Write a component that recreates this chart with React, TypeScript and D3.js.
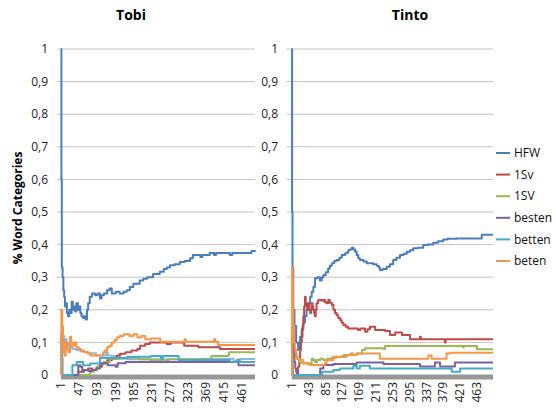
import { useEffect, useRef } from "react"
import * as d3 from "d3"

type Pt = [number, number]

// category index, share of words (at the change points)
const tobiHFW: Pt[] = [[1,1],[2,0.6],[3,0.33],[5,0.3],[7,0.26],[9,0.24],[11,0.21],[13,0.22],[16,0.19],[19,0.18],[22,0.2],[25,0.19],[28,0.225],[31,0.2],[34,0.21],[37,0.195],[40,0.22],[44,0.2],[47,0.21],[50,0.19],[53,0.18],[57,0.175],[61,0.18],[64,0.17],[67,0.2],[70,0.22],[74,0.24],[80,0.25],[88,0.245],[94,0.25],[100,0.235],[104,0.245],[110,0.25],[118,0.26],[124,0.265],[130,0.25],[140,0.255],[150,0.25],[160,0.255],[168,0.26],[176,0.27],[185,0.28],[195,0.28],[201,0.29],[210,0.295],[220,0.3],[227,0.3],[235,0.31],[245,0.31],[252,0.317],[262,0.325],[270,0.33],[278,0.337],[290,0.34],[303,0.347],[315,0.35],[329,0.358],[336,0.368],[350,0.368],[355,0.362],[360,0.368],[379,0.374],[390,0.368],[395,0.374],[420,0.374],[430,0.368],[436,0.374],[480,0.374],[485,0.38],[494,0.378]]
const tobiExtra: Pt[] = [[1,0],[2,0.13],[4,0.11],[6,0.12],[9,0.1],[12,0.11],[15,0.09],[18,0.1],[22,0.085],[26,0.09],[30,0.08],[40,0.077],[50,0.072],[60,0.07],[70,0.067],[90,0.06],[112,0.06],[115,0.07],[120,0.06],[130,0.058],[150,0.05],[170,0.048],[260,0.048],[265,0.044],[275,0.048],[360,0.05],[430,0.05],[440,0.043],[455,0.049],[494,0.049]]
const tobi1Sv: Pt[] = [[1,0],[40,0],[45,0.01],[57,0.015],[70,0.02],[80,0.015],[92,0.025],[105,0.035],[118,0.045],[130,0.05],[143,0.06],[151,0.065],[165,0.07],[180,0.075],[195,0.08],[202,0.09],[215,0.095],[227,0.1],[260,0.1],[270,0.095],[280,0.1],[311,0.1],[314,0.09],[340,0.09],[350,0.085],[400,0.085],[405,0.08],[494,0.08]]
const tobi1SV: Pt[] = [[1,0],[70,0],[75,0.01],[85,0.015],[92,0.025],[100,0.036],[110,0.04],[125,0.05],[150,0.053],[200,0.048],[228,0.045],[258,0.045],[260,0.04],[270,0.048],[380,0.048],[383,0.058],[425,0.06],[428,0.07],[494,0.07]]
const tobiBesten: Pt[] = [[1,0],[44,0],[45,0.03],[50,0.025],[55,0.01],[60,0.015],[70,0.012],[80,0.015],[90,0.02],[100,0.036],[120,0.03],[140,0.025],[145,0.036],[165,0.04],[450,0.04],[452,0.03],[494,0.03]]
const tobiBetten: Pt[] = [[1,0],[2,0.12],[4,0.05],[5,0],[29,0],[30,0.03],[41,0.04],[57,0.03],[75,0.035],[100,0.052],[170,0.056],[230,0.058],[255,0.05],[260,0.058],[290,0.058],[300,0.046],[400,0.046],[430,0.04],[448,0.046],[455,0.04],[494,0.04]]
const tobiBeten: Pt[] = [[1,0],[2,0.2],[4,0.15],[6,0.1],[8,0.07],[10,0.06],[13,0.1],[16,0.08],[20,0.07],[24,0.117],[27,0.1],[30,0.09],[35,0.1],[40,0.085],[46,0.08],[52,0.075],[60,0.07],[70,0.065],[76,0.06],[100,0.06],[108,0.07],[112,0.075],[118,0.085],[124,0.09],[130,0.1],[137,0.107],[143,0.115],[150,0.12],[160,0.125],[175,0.12],[185,0.125],[195,0.115],[205,0.12],[215,0.11],[230,0.112],[253,0.102],[315,0.11],[318,0.102],[390,0.11],[393,0.102],[400,0.092],[494,0.092]]

const tintoHFW: Pt[] = [[1,1],[2,0.5],[3,0.33],[5,0.2],[8,0.15],[12,0.1],[17,0.077],[20,0.1],[22,0.117],[26,0.14],[30,0.16],[34,0.18],[38,0.2],[42,0.22],[47,0.24],[51,0.255],[55,0.27],[59,0.297],[65,0.3],[71,0.29],[76,0.3],[80,0.307],[86,0.315],[92,0.327],[96,0.335],[101,0.343],[107,0.35],[113,0.353],[120,0.36],[126,0.368],[134,0.373],[138,0.375],[142,0.383],[146,0.385],[151,0.39],[155,0.385],[159,0.378],[163,0.368],[167,0.358],[171,0.353],[180,0.348],[188,0.343],[196,0.343],[204,0.34],[210,0.34],[213,0.335],[218,0.33],[221,0.322],[228,0.325],[238,0.332],[246,0.34],[254,0.353],[262,0.36],[271,0.368],[280,0.372],[288,0.378],[296,0.383],[304,0.389],[316,0.39],[329,0.399],[340,0.4],[354,0.406],[366,0.41],[379,0.416],[390,0.418],[412,0.419],[474,0.419],[475,0.43],[503,0.43]]
const tinto1Sv: Pt[] = [[1,0],[15,0],[17,0.025],[20,0.05],[22,0.077],[24,0.1],[26,0.117],[28,0.15],[30,0.18],[32,0.21],[34,0.24],[36,0.22],[38,0.21],[40,0.2],[42,0.22],[45,0.2],[47,0.19],[49,0.2],[51,0.22],[53,0.21],[55,0.2],[57,0.19],[59,0.18],[61,0.2],[63,0.22],[67,0.23],[76,0.228],[80,0.23],[84,0.223],[88,0.22],[92,0.23],[96,0.222],[101,0.215],[105,0.2],[109,0.19],[113,0.183],[117,0.175],[122,0.168],[126,0.16],[130,0.153],[136,0.148],[142,0.143],[160,0.143],[166,0.138],[172,0.143],[184,0.133],[190,0.14],[196,0.148],[209,0.138],[234,0.135],[246,0.123],[259,0.13],[276,0.123],[296,0.11],[321,0.117],[323,0.11],[382,0.11],[383,0.1],[385,0.11],[503,0.11]]
const tinto1SV: Pt[] = [[1,0],[3,0],[4,0.12],[6,0.09],[8,0.077],[12,0.06],[15,0.05],[19,0.04],[24,0.036],[38,0.036],[51,0.05],[55,0.046],[59,0.04],[64,0.046],[72,0.05],[80,0.046],[89,0.05],[101,0.053],[113,0.056],[130,0.061],[148,0.066],[155,0.061],[163,0.066],[176,0.077],[184,0.082],[230,0.08],[234,0.089],[427,0.085],[430,0.089],[462,0.089],[463,0.079],[503,0.079]]
const tintoBesten: Pt[] = [[1,0],[2,0.12],[4,0.1],[6,0.07],[8,0.04],[10,0.02],[12,0.01],[14,0],[60,0],[72,0.02],[80,0.031],[92,0.031],[105,0.034],[163,0.038],[230,0.034],[321,0.026],[358,0.038],[371,0.026],[408,0.038],[503,0.038]]
const tintoBetten: Pt[] = [[1,0],[2,0.05],[3,0],[76,0],[77,0.01],[105,0.015],[121,0.02],[155,0.028],[163,0.02],[171,0.028],[196,0.02],[400,0.01],[421,0.02],[503,0.02]]
const tintoBeten: Pt[] = [[1,0],[2,0.33],[3,0.3],[4,0.2],[5,0.15],[7,0.1],[9,0.08],[11,0.067],[13,0.05],[20,0.046],[30,0.036],[40,0.033],[47,0.031],[84,0.036],[88,0.046],[105,0.056],[138,0.061],[163,0.066],[213,0.066],[221,0.05],[340,0.05],[342,0.06],[350,0.05],[387,0.066],[396,0.068],[503,0.068]]

const seriesNames = ["HFW", "1Sv", "1SV", "besten", "betten", "beten"]
const tobiTicks = [1, 47, 93, 139, 185, 231, 277, 323, 369, 415, 461]
const tintoTicks = [1, 43, 85, 127, 169, 211, 253, 295, 337, 379, 421, 463]
const yTicks = [0, 0.1, 0.2, 0.3, 0.4, 0.5, 0.6, 0.7, 0.8, 0.9, 1]

const colors: Record<string, string> = {
  HFW: "#4a7ebb",
  extra: "#93b4dd",
  "1Sv": "#be4b48",
  "1SV": "#98b954",
  besten: "#7d60a0",
  betten: "#46aac5",
  beten: "#f79646",
}

const FONT = "'Open Sans', 'Noto Sans', sans-serif"

export default function App() {
  const svgRef = useRef<SVGSVGElement>(null)

  useEffect(() => {
    const svg = d3.select(svgRef.current)
    svg.selectAll("*").remove()

    const W = 556
    const H = 410
    svg.attr("width", W).attr("height", H)

    const y = d3.scaleLinear().domain([0, 1]).range([375, 49])
    const fmt = d3.formatLocale({ decimal: ",", thousands: ".", grouping: [3], currency: ["", ""] }).format(".1~f")

    const panels = [
      {
        title: "Tobi", titleX: 131, left: 57, right: 255, first: 61, n: 494, ticks: tobiTicks, labelX: 48,
        series: [["HFW", tobiHFW], ["extra", tobiExtra], ["1Sv", tobi1Sv], ["1SV", tobi1SV], ["besten", tobiBesten], ["betten", tobiBetten], ["beten", tobiBeten]] as [string, Pt[]][],
      },
      {
        title: "Tinto", titleX: 410, left: 286.5, right: 493, first: 291.7, n: 503, ticks: tintoTicks, labelX: 278,
        series: [["HFW", tintoHFW], ["1Sv", tinto1Sv], ["1SV", tinto1SV], ["besten", tintoBesten], ["betten", tintoBetten], ["beten", tintoBeten]] as [string, Pt[]][],
      },
    ]

    panels.forEach(p => {
      const x = d3.scaleLinear().domain([1, p.n]).range([p.first, p.right])
      const g = svg.append("g")

      // title
      g.append("text")
        .attr("x", p.titleX).attr("y", 20)
        .attr("text-anchor", "middle")
        .style("font-family", FONT).style("font-size", "14px").style("font-weight", "bold")
        .text(p.title)

      // grid
      g.selectAll(".grid")
        .data(yTicks.filter(d => d > 0))
        .enter().append("line")
        .attr("x1", p.left).attr("x2", p.right)
        .attr("y1", d => y(d)).attr("y2", d => y(d))
        .attr("stroke", "#c3c3c3").attr("stroke-width", 1)

      // y tick labels
      g.selectAll(".ylab")
        .data(yTicks)
        .enter().append("text")
        .attr("x", p.labelX).attr("y", d => y(d))
        .attr("dy", "0.35em")
        .attr("text-anchor", "end")
        .style("font-family", FONT).style("font-size", "12px").attr("fill", "#222")
        .text(d => fmt(d))

      // thick gray baseline
      g.append("rect")
        .attr("x", p.first).attr("y", y(0) - 0.5)
        .attr("width", p.right - p.first).attr("height", 5)
        .attr("fill", "#979797")

      // x tick labels
      g.selectAll(".xlab")
        .data(p.ticks)
        .enter().append("text")
        .attr("transform", d => `translate(${x(d)},382) rotate(-90)`)
        .attr("dy", "0.35em")
        .attr("text-anchor", "end")
        .style("font-family", FONT).style("font-size", "12px").attr("fill", "#222")
        .text(d => d)

      const line = d3.line<Pt>()
        .x(d => x(d[0]))
        .y(d => y(d[1]))
        .curve(d3.curveStepAfter)

      p.series.forEach(([name, pts]) => {
        g.append("path")
          .datum(pts)
          .attr("d", line)
          .attr("fill", "none")
          .attr("stroke", colors[name])
          .attr("stroke-width", 2)
          .attr("stroke-linejoin", "round")
      })
    })

    // y axis title
    svg.append("text")
      .attr("transform", "translate(18,208) rotate(-90)")
      .attr("dy", "0.35em")
      .attr("text-anchor", "middle")
      .style("font-family", FONT).style("font-size", "12px").style("font-weight", "bold")
      .text("% Word Categories")

    // legend
    const legend = svg.append("g")
    seriesNames.forEach((name, i) => {
      const ly = 153 + i * 21.6
      legend.append("line")
        .attr("x1", 496).attr("x2", 510)
        .attr("y1", ly).attr("y2", ly)
        .attr("stroke", colors[name]).attr("stroke-width", 2)
      legend.append("text")
        .attr("x", 514).attr("y", ly)
        .attr("dy", "0.35em")
        .style("font-family", FONT).style("font-size", "12px").attr("fill", "#111")
        .text(name)
    })
  }, [])

  return (
    <div style={{ position: "absolute", left: 0, top: 0, background: "#fff" }}>
      <svg ref={svgRef}></svg>
    </div>
  )
}
